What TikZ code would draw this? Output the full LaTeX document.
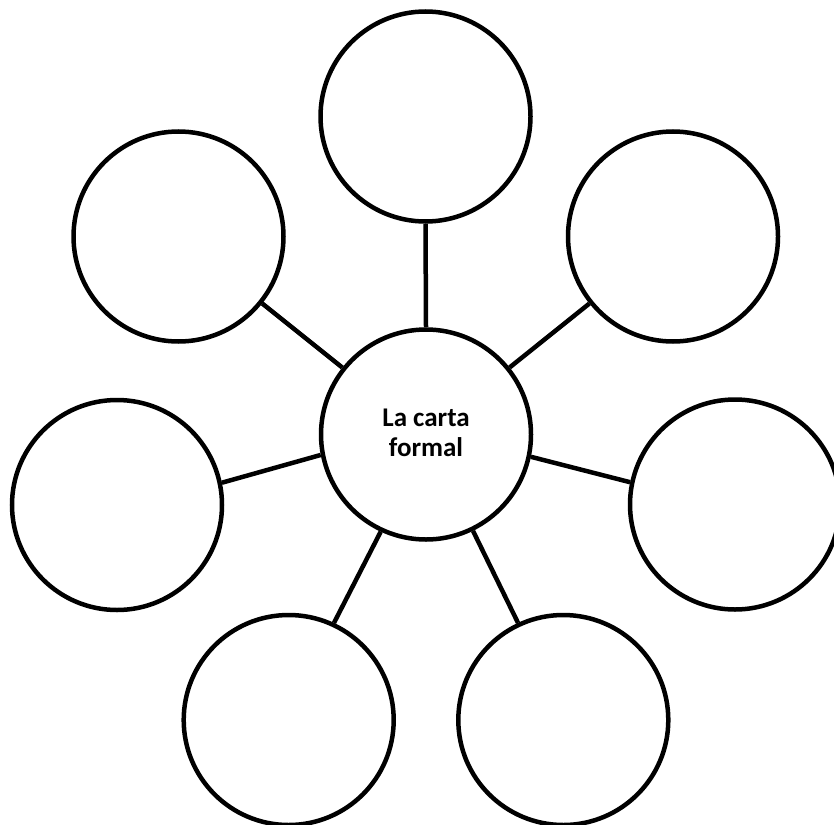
\documentclass[tikz,border=0pt]{standalone}
\usepackage{fontspec}
\setmainfont{Carlito}
\begin{document}
\begin{tikzpicture}[x=1pt,y=-1pt,
  bubble/.style={circle,draw=black,line width=4.5pt,minimum size=210pt,inner sep=0pt,fill=white},
  link/.style={draw=black,line width=4.5pt},
  label/.style={font=\fontsize{27}{30}\selectfont\bfseries,align=center}]
\useasboundingbox (0,0) rectangle (834,824);
\node[bubble] (c) at (426,434.5) {};
\node[bubble] (t) at (425.5,116.5) {};
\node[bubble] (tl) at (178.5,236.5) {};
\node[bubble] (tr) at (673,236.5) {};
\node[bubble] (l) at (117,505) {};
\node[bubble] (r) at (735,504.5) {};
\node[bubble] (bl) at (288.7,720) {};
\node[bubble] (br) at (563.3,720) {};
\path[link] (c.90) -- (t.-90);
\path[link] (c) -- (tl);
\path[link] (c) -- (tr);
\path[link] (c.191) -- (l.12);
\path[link] (c.-12) -- (r.168);
\path[link] (c.245) -- (bl.65);
\path[link] (c.-64) -- (br.115);
\node[label] (txt) at (426,433) {La carta\\formal};
\end{tikzpicture}
\end{document}
